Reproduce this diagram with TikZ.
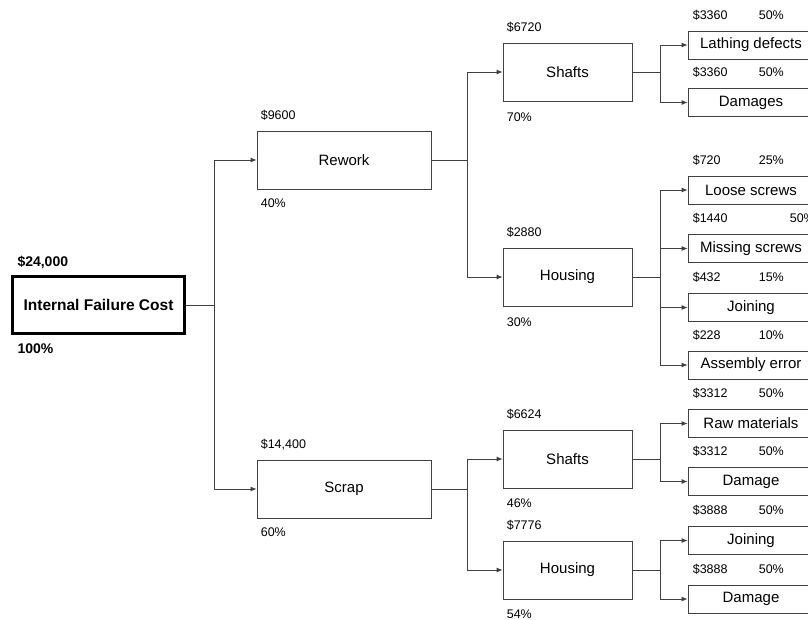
\documentclass[tikz,border=0pt]{standalone}
\usepackage{fontspec}
\setmainfont{Liberation Sans}
\usetikzlibrary{arrows.meta,positioning}
\tikzset{
  rootbox/.style={
    rectangle, draw=black, line width=2.4pt,
    minimum width=172pt, minimum height=57pt,
    inner sep=0pt, font=\fontsize{15.5}{18}\selectfont\bfseries},
  midbox/.style={
    rectangle, draw=black!75, line width=0.8pt,
    minimum width=#1, minimum height=58pt,
    inner sep=0pt, font=\fontsize{15}{18}\selectfont},
  midbox/.default=174pt,
  leafbox/.style={
    rectangle, draw=black!75, line width=0.8pt,
    minimum width=126pt, minimum height=28pt,
    inner sep=0pt, font=\fontsize{15}{18}\selectfont},
  lbl/.style={inner sep=0pt, font=\fontsize{12.5}{15}\selectfont},
  rootlbl/.style={inner sep=0pt, font=\fontsize{14}{16}\selectfont\bfseries},
  link/.style={draw=black!75, line width=0.8pt},
  myarrow/.style={-{Latex[length=6pt,width=5pt]}, link},
}

\begin{document}
\begin{tikzpicture}[x=1pt, y=-1pt]
  \useasboundingbox (0,0) rectangle (808,619);

  % main boxes
  \node[rootbox] (root) at (98.5,305) {Internal Failure Cost};
  \node[midbox] (rework) at (344,160) {Rework};
  \node[midbox] (scrap) at (344,489) {Scrap};
  \node[midbox=129pt] (rshaft) at (567.5,72) {Shafts};
  \node[midbox=129pt] (rhousing) at (567.5,277) {Housing};
  \node[midbox=129pt] (sshaft) at (567.5,459) {Shafts};
  \node[midbox=129pt] (shousing) at (567.5,570) {Housing};

  % leaves
  \node[leafbox] (lathing) at (751,45) {Lathing defects};
  \node[leafbox] (rdamages) at (751,102.5) {Damages};
  \node[leafbox] (loose) at (751,190) {Loose screws};
  \node[leafbox] (missing) at (751,248.5) {Missing screws};
  \node[leafbox] (rjoining) at (751,307.5) {Joining};
  \node[leafbox] (assembly) at (751,365) {Assembly error};
  \node[leafbox] (raw) at (751,423.5) {Raw materials};
  \node[leafbox] (sdamage) at (751,481.5) {Damage};
  \node[leafbox] (sjoining) at (751,540.5) {Joining};
  \node[leafbox] (hdamage) at (751,599) {Damage};

  % cost and share labels
  \node[rootlbl, above right=9pt and 6pt of root.north west, anchor=base west] (rootcost) {\$24,000};
  \node[rootlbl, below right=19pt and 6pt of root.south west, anchor=base west] (rootpct) {100\%};
  \node[lbl, above right=11.5pt and 4pt of rework.north west, anchor=base west] (reworkcost) {\$9600};
  \node[lbl, below right=18.5pt and 4pt of rework.south west, anchor=base west] (reworkpct) {40\%};
  \node[lbl, above right=11.5pt and 4pt of scrap.north west, anchor=base west] (scrapcost) {\$14,400};
  \node[lbl, below right=18.5pt and 4pt of scrap.south west, anchor=base west] (scrappct) {60\%};
  \node[lbl, above right=11pt and 4pt of rshaft.north west, anchor=base west] (rshaftcost) {\$6720};
  \node[lbl, below right=20pt and 4pt of rshaft.south west, anchor=base west] (rshaftpct) {70\%};
  \node[lbl, above right=11pt and 4pt of rhousing.north west, anchor=base west] (rhousingcost) {\$2880};
  \node[lbl, below right=20pt and 4pt of rhousing.south west, anchor=base west] (rhousingpct) {30\%};
  \node[lbl, above right=11pt and 4pt of sshaft.north west, anchor=base west] (sshaftcost) {\$6624};
  \node[lbl, below right=19.5pt and 4pt of sshaft.south west, anchor=base west] (sshaftpct) {46\%};
  \node[lbl, above right=11pt and 4pt of shousing.north west, anchor=base west] (shousingcost) {\$7776};
  \node[lbl, below right=19.5pt and 4pt of shousing.south west, anchor=base west] (shousingpct) {54\%};

  \node[lbl, above right=11.5pt and 5pt of lathing.north west, anchor=base west] (lathingcost) {\$3360};
  \node[lbl, above right=11.5pt and 71pt of lathing.north west, anchor=base west] (lathingpct) {50\%};
  \node[lbl, above right=11.5pt and 5pt of rdamages.north west, anchor=base west] (rdamagescost) {\$3360};
  \node[lbl, above right=11.5pt and 71pt of rdamages.north west, anchor=base west] (rdamagespct) {50\%};
  \node[lbl, above right=11.5pt and 5pt of loose.north west, anchor=base west] (loosecost) {\$720};
  \node[lbl, above right=11.5pt and 71pt of loose.north west, anchor=base west] (loosepct) {25\%};
  \node[lbl, above right=11.5pt and 5pt of missing.north west, anchor=base west] (missingcost) {\$1440};
  \node[lbl, above right=11.5pt and 102pt of missing.north west, anchor=base west] (missingpct) {50\%};
  \node[lbl, above right=11.5pt and 5pt of rjoining.north west, anchor=base west] (rjoiningcost) {\$432};
  \node[lbl, above right=11.5pt and 71pt of rjoining.north west, anchor=base west] (rjoiningpct) {15\%};
  \node[lbl, above right=11.5pt and 5pt of assembly.north west, anchor=base west] (assemblycost) {\$228};
  \node[lbl, above right=11.5pt and 71pt of assembly.north west, anchor=base west] (assemblypct) {10\%};
  \node[lbl, above right=11.5pt and 5pt of raw.north west, anchor=base west] (rawcost) {\$3312};
  \node[lbl, above right=11.5pt and 71pt of raw.north west, anchor=base west] (rawpct) {50\%};
  \node[lbl, above right=11.5pt and 5pt of sdamage.north west, anchor=base west] (sdamagecost) {\$3312};
  \node[lbl, above right=11.5pt and 71pt of sdamage.north west, anchor=base west] (sdamagepct) {50\%};
  \node[lbl, above right=11.5pt and 5pt of sjoining.north west, anchor=base west] (sjoiningcost) {\$3888};
  \node[lbl, above right=11.5pt and 71pt of sjoining.north west, anchor=base west] (sjoiningpct) {50\%};
  \node[lbl, above right=11.5pt and 5pt of hdamage.north west, anchor=base west] (hdamagecost) {\$3888};
  \node[lbl, above right=11.5pt and 71pt of hdamage.north west, anchor=base west] (hdamagepct) {50\%};

  % junctions
  \coordinate (j0) at (214,305);
  \coordinate (j1) at (467,160);
  \coordinate (j2) at (467,489);
  \coordinate (ja) at (660,72);
  \coordinate (jb) at (660,277);
  \coordinate (jc) at (660,459);
  \coordinate (jd) at (660,570);

  % connectors
  \draw[link] (root) -- (j0);
  \draw[myarrow] (j0) |- (rework);
  \draw[myarrow] (j0) |- (scrap);
  \draw[link] (rework) -- (j1);
  \draw[myarrow] (j1) |- (rshaft);
  \draw[myarrow] (j1) |- (rhousing);
  \draw[link] (scrap) -- (j2);
  \draw[myarrow] (j2) |- (sshaft);
  \draw[myarrow] (j2) |- (shousing);
  \draw[link] (rshaft) -- (ja);
  \draw[myarrow] (ja) |- (lathing);
  \draw[myarrow] (ja) |- (rdamages);
  \draw[link] (rhousing) -- (jb);
  \draw[myarrow] (jb) |- (loose);
  \draw[myarrow] (jb) |- (missing);
  \draw[myarrow] (jb) |- (rjoining);
  \draw[myarrow] (jb) |- (assembly);
  \draw[link] (sshaft) -- (jc);
  \draw[myarrow] (jc) |- (raw);
  \draw[myarrow] (jc) |- (sdamage);
  \draw[link] (shousing) -- (jd);
  \draw[myarrow] (jd) |- (sjoining);
  \draw[myarrow] (jd) |- (hdamage);
\end{tikzpicture}
\end{document}
